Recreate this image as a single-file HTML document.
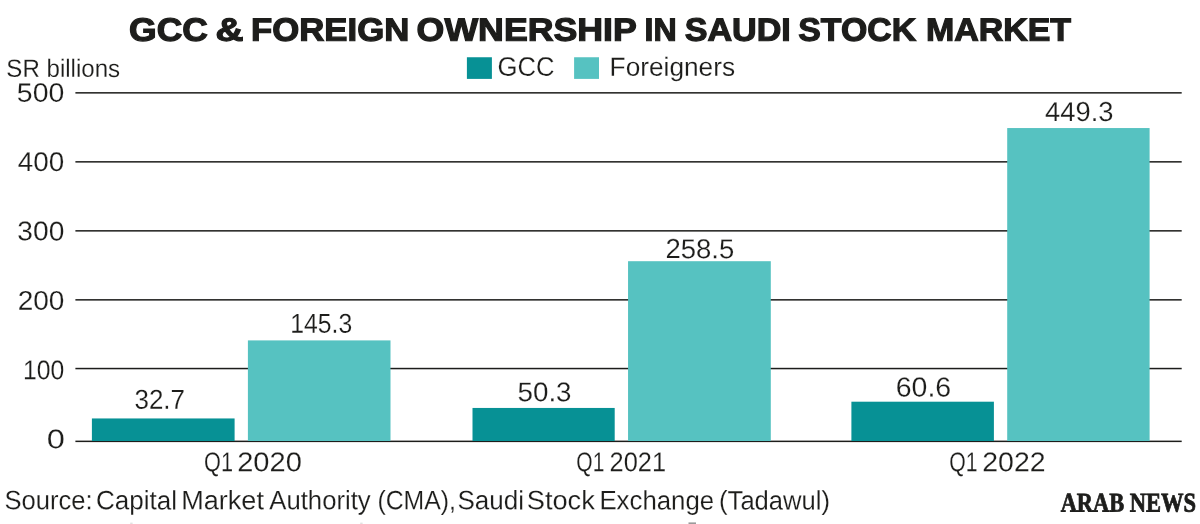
<!DOCTYPE html>
<html><head><meta charset="utf-8"><title>GCC &amp; Foreign Ownership in Saudi Stock Market</title>
<style>
html,body{margin:0;padding:0;background:#fff;}
body{width:1200px;height:524px;position:relative;overflow:hidden;font-family:"Liberation Sans",sans-serif;color:#1d1d1b;}
.grp{margin:0;padding:0;font-weight:normal;}
.t{position:absolute;font-weight:normal;left:0;top:0;white-space:nowrap;line-height:1;transform-origin:left top;text-rendering:geometricPrecision;}
.t.title{font-weight:bold;-webkit-text-stroke:0.037em #1d1d1b;}
.thin{-webkit-text-stroke:0.006em #fff;}
.t.logo{font-family:"Liberation Serif",serif;font-weight:bold;-webkit-text-stroke:0.03em #1d1d1b;}
</style></head><body>
<svg width="1200" height="524" viewBox="0 0 1200 524" style="position:absolute;left:0;top:0;">
<rect x="75.4" y="92.10" width="1106.3" height="1.50" fill="#1d1d1b"/>
<rect x="75.4" y="161.10" width="1106.3" height="1.50" fill="#1d1d1b"/>
<rect x="75.4" y="230.10" width="1106.3" height="1.50" fill="#1d1d1b"/>
<rect x="75.4" y="299.10" width="1106.3" height="1.50" fill="#1d1d1b"/>
<rect x="75.4" y="367.80" width="1106.3" height="1.50" fill="#1d1d1b"/>
<rect x="75.4" y="440.60" width="1106.3" height="1.50" fill="#1d1d1b"/>
<rect x="91.90" y="418.45" width="142.70" height="22.55" fill="#079195"/>
<rect x="247.90" y="340.40" width="142.60" height="100.60" fill="#56c2c1"/>
<rect x="472.50" y="407.95" width="142.20" height="33.05" fill="#079195"/>
<rect x="628.05" y="261.20" width="142.75" height="179.80" fill="#56c2c1"/>
<rect x="851.40" y="401.70" width="142.50" height="39.30" fill="#079195"/>
<rect x="1007.20" y="128.05" width="142.40" height="312.95" fill="#56c2c1"/>
<rect x="466.9" y="57.25" width="25" height="21.65" fill="#079195"/>
<rect x="574.1" y="57.25" width="24.9" height="21.65" fill="#56c2c1"/>
<rect x="688.5" y="522.4" width="7.5" height="1.6" fill="#9a9a9a"/>
<rect x="130.2" y="522.6" width="2.4" height="1.4" fill="#e2e2e2"/>
<rect x="360.2" y="522.6" width="2.4" height="1.4" fill="#e2e2e2"/>
</svg>
<h1 class="grp"><span id="tw1" class="t title" style="font-size:32.33px;transform:matrix(1.0976,0.0006,0,1,129.11,13.67);">GCC</span> <span id="tw2" class="t title" style="font-size:32.33px;transform:matrix(1.1992,0.0006,0,1,215.62,13.67);">&amp;</span> <span id="tw3" class="t title" style="font-size:32.33px;transform:matrix(1.0754,0.0006,0,1,250.95,13.67);">FOREIGN</span> <span id="tw4" class="t title" style="font-size:32.33px;transform:matrix(1.1047,0.0006,0,1,416.61,13.67);">OWNERSHIP</span> <span id="tw5" class="t title" style="font-size:32.33px;transform:matrix(0.9942,0.0006,0,1,644.54,13.67);">IN</span> <span id="tw6" class="t title" style="font-size:32.33px;transform:matrix(1.0556,0.0006,0,1,684.67,13.67);">SAUDI</span> <span id="tw7" class="t title" style="font-size:32.33px;transform:matrix(1.0466,0.0006,0,1,798.27,13.67);">STOCK</span> <span id="tw8" class="t title" style="font-size:32.33px;transform:matrix(1.0494,0.0006,0,1,925.91,13.67);">MARKET</span></h1>
<div class="grp"><span id="sr" class="t thin" style="font-size:24.85px;transform:matrix(0.9688,0.0006,0,1,6.37,57.82);">SR billions</span></div>
<div class="grp"><span id="lg1" class="t thin" style="font-size:26.79px;transform:matrix(0.9581,0.0006,0,1,497.43,53.78);">GCC</span></div>
<div class="grp"><span id="lg2" class="t thin" style="font-size:26.25px;transform:matrix(0.9996,0.0006,0,1,609.61,53.74);">Foreigners</span></div>
<div class="grp"><span id="y500" class="t thin" style="font-size:26.57px;transform:matrix(1.0717,0.0006,0,1,16.80,79.66);">500</span></div>
<div class="grp"><span id="y400" class="t thin" style="font-size:27.14px;transform:matrix(1.0252,0.0006,0,1,17.80,148.09);">400</span></div>
<div class="grp"><span id="y300" class="t thin" style="font-size:27.14px;transform:matrix(1.0382,0.0006,0,1,17.37,217.36);">300</span></div>
<div class="grp"><span id="y200" class="t thin" style="font-size:27px;transform:matrix(1.0385,0.0006,0,1,17.67,287.68);">200</span></div>
<div class="grp"><span id="y100" class="t thin" style="font-size:27.14px;transform:matrix(0.9112,0.0006,0,1,22.90,356.13);">100</span></div>
<div class="grp"><span id="y0" class="t thin" style="font-size:26.86px;transform:matrix(1.2132,0.0006,0,1,46.85,426.30);">0</span></div>
<div class="grp"><span id="v1" class="t thin" style="font-size:27.36px;transform:matrix(0.9486,0.0006,0,1,134.50,385.85);">32.7</span></div>
<div class="grp"><span id="v2" class="t thin" style="font-size:27.36px;transform:matrix(0.9039,0.0006,0,1,290.32,309.83);">145.3</span></div>
<div class="grp"><span id="v3" class="t thin" style="font-size:27.07px;transform:matrix(1.0258,0.0006,0,1,517.52,378.22);">50.3</span></div>
<div class="grp"><span id="v4" class="t thin" style="font-size:27.43px;transform:matrix(1.0031,0.0006,0,1,665.39,235.12);">258.5</span></div>
<div class="grp"><span id="v5" class="t thin" style="font-size:27.43px;transform:matrix(1.0384,0.0006,0,1,895.77,373.43);">60.6</span></div>
<div class="grp"><span id="v6" class="t thin" style="font-size:27.43px;transform:matrix(0.9973,0.0006,0,1,1045.09,98.09);">449.3</span></div>
<div class="grp"><span id="q1a" class="t thin" style="font-size:27.14px;transform:matrix(0.7985,0.0006,0,1,204.04,448.34);">Q1</span> <span id="q1b" class="t thin" style="font-size:27.14px;transform:matrix(1.0716,0.0006,0,1,237.16,448.31);">2020</span></div>
<div class="grp"><span id="q2a" class="t thin" style="font-size:27.14px;transform:matrix(0.7755,0.0006,0,1,576.34,448.35);">Q1</span> <span id="q2b" class="t thin" style="font-size:27.14px;transform:matrix(0.9353,0.0006,0,1,609.58,448.31);">2021</span></div>
<div class="grp"><span id="q3a" class="t thin" style="font-size:27.14px;transform:matrix(0.7809,0.0006,0,1,949.37,448.34);">Q1</span> <span id="q3b" class="t thin" style="font-size:27.14px;transform:matrix(1.0491,0.0006,0,1,982.29,448.33);">2022</span></div>
<p class="grp"><span id="s1" class="t thin" style="font-size:26.57px;transform:matrix(0.9638,0.0006,0,1,4.41,487.31);">Source:</span> <span id="s2" class="t thin" style="font-size:26.57px;transform:matrix(0.9800,0.0006,0,1,96.01,487.34);">Capital</span> <span id="s3" class="t thin" style="font-size:26.57px;transform:matrix(1.0184,0.0006,0,1,181.23,487.32);">Market</span> <span id="s4" class="t thin" style="font-size:26.57px;transform:matrix(0.9670,0.0006,0,1,269.30,487.30);">Authority</span> <span id="s5" class="t thin" style="font-size:26.57px;transform:matrix(0.9340,0.0006,0,1,377.42,487.34);">(CMA),</span> <span id="s6" class="t thin" style="font-size:26.57px;transform:matrix(0.9800,0.0006,0,1,457.48,487.34);">Saudi</span> <span id="s7" class="t thin" style="font-size:26.57px;transform:matrix(1.0253,0.0006,0,1,526.74,487.31);">Stock</span> <span id="s8" class="t thin" style="font-size:26.57px;transform:matrix(0.9715,0.0006,0,1,599.38,487.35);">Exchange</span> <span id="s9" class="t thin" style="font-size:26.57px;transform:matrix(0.9631,0.0006,0,1,719.07,487.37);">(Tadawul)</span></p>
<div class="grp"><span id="lo1" class="t logo" style="font-size:27.06px;transform:matrix(0.8282,0.0006,0,1,1060.63,489.46);">ARAB</span> <span id="lo2" class="t logo" style="font-size:27.06px;transform:matrix(0.8331,0.0006,0,1,1129.78,489.46);">NEWS</span></div>
</body></html>
